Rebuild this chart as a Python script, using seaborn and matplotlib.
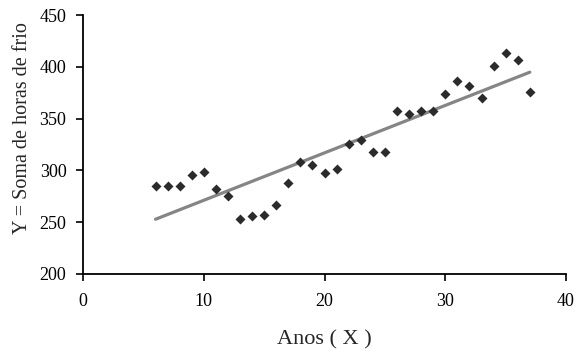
import numpy as np
import pandas as pd
import matplotlib
matplotlib.use('Agg')
import matplotlib.pyplot as plt
import seaborn as sns

anos = [6, 7, 8, 9, 10, 11, 12, 13, 14, 15, 16, 17, 18, 19, 20, 21,
        22, 23, 24, 25, 26, 27, 28, 29, 30, 31, 32, 33, 34, 35, 36, 37]
horas_frio = [285, 285, 285, 296, 298, 282, 275, 253, 256, 257, 267, 288, 308, 305, 297, 301,
              325, 329, 318, 318, 357, 354, 357, 357, 374, 386, 382, 370, 401, 413, 407, 376]
xticks = [0, 10, 20, 30, 40]
yticks = [200, 250, 300, 350, 400, 450]

df = pd.DataFrame({'x': anos, 'y': horas_frio})

sns.set_style('ticks')
plt.rcParams['font.family'] = ['Liberation Serif', 'DejaVu Serif']

fig = plt.figure(figsize=(5.77, 3.52), dpi=100)
ax = fig.add_axes([0.144, 0.222, 0.837, 0.735])

# trend line first, points on top
sns.regplot(x='x', y='y', data=df, ax=ax, ci=None, scatter=False,
            line_kws={'color': '#858585', 'lw': 2.3})
sns.scatterplot(x='x', y='y', data=df, ax=ax, marker='D', s=26,
                color='#2b2b2b', edgecolor='#2b2b2b', linewidth=0, zorder=3)

ax.set_xlim(0, 40)
ax.set_ylim(200, 450)
ax.set_xticks(xticks)
ax.set_yticks(yticks)
ax.tick_params(direction='out', length=5, width=1.2, colors='black', labelsize=13)
ax.tick_params(axis='x', pad=9)
ax.tick_params(axis='y', pad=7)
for s in ['left', 'bottom']:
    ax.spines[s].set_color('black')
    ax.spines[s].set_linewidth(1.3)
sns.despine(ax=ax)

ax.set_xlabel('Anos ( X )', fontsize=16, labelpad=14)
ax.set_ylabel('Y = Soma de horas de frio', fontsize=14.5)
ax.yaxis.set_label_coords(-0.106, 0.565)

plt.savefig('out.png', dpi=100)
